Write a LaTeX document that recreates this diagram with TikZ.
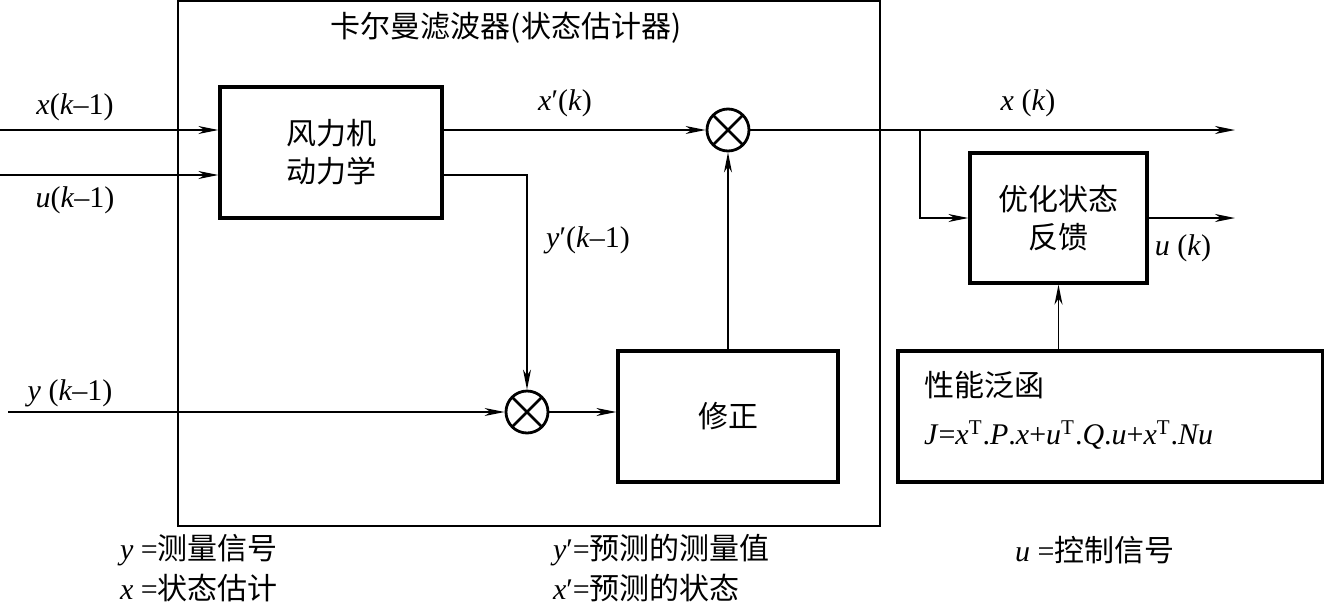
\documentclass[tikz,border=0pt]{standalone}
\usepackage{fontspec}
\setmainfont{Liberation Serif}
\newfontfamily\cjk{Noto Sans CJK SC}
\usetikzlibrary{arrows.meta}
\newcommand{\iv}[1]{\textit{#1}}

\begin{document}
\begin{tikzpicture}[x=0.5pt,y=-0.5pt,
  font=\fontsize{15}{18}\selectfont,
  >={Stealth[length=10pt,width=4pt,inset=3pt]},
  blockbox/.style={draw,line width=1.6pt,align=center,inner sep=0pt,
    font=\fontsize{15}{19}\selectfont\cjk},
  mixer/.style={circle,draw,line width=1.4pt,minimum size=21pt,inner sep=0pt,
    path picture={\draw[line width=1.4pt]
      (path picture bounding box.south west) -- (path picture bounding box.north east)
      (path picture bounding box.north west) -- (path picture bounding box.south east);}},
  sig/.style={line width=0.7pt}]

  \useasboundingbox (0,0) rectangle (1324,606);

  % --- filtro di Kalman (cornice) ---
  \node[draw,line width=1pt,minimum width=351pt,minimum height=262.5pt,inner sep=0pt] (kf) at (529,263.5) {};
  \node (title) at (506,28) {\cjk 卡尔曼滤波器(状态估计器)};

  % --- blocchi ---
  \node[blockbox,minimum width=111pt,minimum height=65.5pt] (dyn) at (331,152.5) {风力机\\动力学};
  \node[blockbox,minimum width=110pt,minimum height=65.5pt] (corr) at (728,416.5) {修正};
  \node[blockbox,minimum width=88.5pt,minimum height=65pt] (fb) at (1058.5,218) {优化状态\\反馈};
  \node[blockbox,minimum width=212.5pt,minimum height=65.5pt] (perf) at (1110.5,416.5) {};
  \node[anchor=west] (perftitle) at (917,385) {\cjk 性能泛函};
  \node[anchor=west] (perfeq) at (917,435) {\iv{J}=\iv{x}\textsuperscript{T}.\iv{P}.\iv{x}+\iv{u}\textsuperscript{T}.\iv{Q}.\iv{u}+\iv{x}\textsuperscript{T}.\iv{Nu}};

  % --- sommatori ---
  \node[mixer] (c1) at (728,130) {};
  \node[mixer] (c2) at (527,412) {};

  % --- ingressi e uscite ---
  \coordinate (xin) at (0,130);
  \coordinate (uin) at (0,175);
  \coordinate (yin) at (8,412);
  \coordinate (br) at (920,130);
  \coordinate (xout) at (1235,130);
  \coordinate (uout) at (1235,218);

  % --- frecce ---
  \draw[sig,->] (xin) -- (xin -| dyn.west);
  \draw[sig,->] (uin) -- (uin -| dyn.west);
  \draw[sig,->] (xin -| dyn.east) -- (c1.west);
  \draw[sig,->] (uin -| dyn.east) -| (c2.north);
  \draw[sig,->] (yin) -- (c2.west);
  \draw[sig,->] (c2.east) -- (c2.east -| corr.west);
  \draw[sig,->] (corr.north) -- (c1.south);
  \draw[sig,->] (c1.east) -- (xout);
  \draw[sig,->] (br) |- (fb.west);
  \draw[sig,->] (fb.east) -- (uout);
  \draw[sig,->] (perf.north -| fb) -- (fb.south);

  % --- etichette ---
  \node (lxin) at (75,107) {\iv{x}(\iv{k}–1)};
  \node (luin) at (75,200) {\iv{u}(\iv{k}–1)};
  \node (lyin) at (70,393) {\iv{y} (\iv{k}–1)};
  \node (lxp) at (565,103) {\iv{x}′(\iv{k})};
  \node (lyp) at (588,240) {\iv{y}′(\iv{k}–1)};
  \node (lxout) at (1028,103) {\iv{x} (\iv{k})};
  \node (luout) at (1183,248) {\iv{u} (\iv{k})};

  % --- legenda ---
  \node[anchor=west] (ly) at (113,550) {\iv{y} =\cjk 测量信号};
  \node[anchor=west] (lx) at (113,588) {\iv{x} =\cjk 状态估计};
  \node[anchor=west] (lyy) at (546,550) {\iv{y}′=\cjk 预测的测量值};
  \node[anchor=west] (lxx) at (546,588) {\iv{x}′=\cjk 预测的状态};
  \node[anchor=west] (lu) at (1008,550) {\iv{u} =\cjk 控制信号};

\end{tikzpicture}
\end{document}
